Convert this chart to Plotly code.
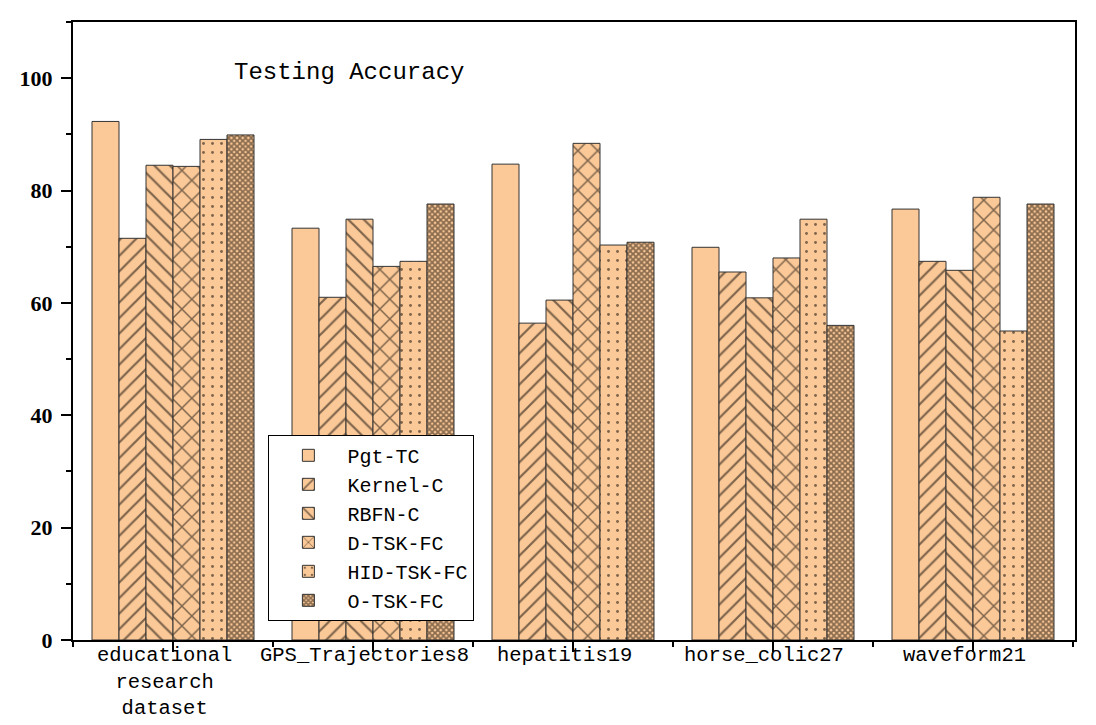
import plotly.graph_objects as go

categories = ["educational<br>research<br>dataset", "GPS_Trajectories8", "hepatitis19",
              "horse_colic27", "waveform21"]
pgt_tc = [92.3, 73.3, 84.7, 69.9, 76.7]
kernel_c = [71.5, 61.0, 56.4, 65.5, 67.4]
rbfn_c = [84.5, 74.9, 60.5, 60.9, 65.8]
d_tsk_fc = [84.3, 66.5, 88.4, 68.0, 78.8]
hid_tsk_fc = [89.1, 67.4, 70.3, 74.9, 55.0]
o_tsk_fc = [89.9, 77.6, 70.8, 56.0, 77.6]

series = [
    ("Pgt-TC", pgt_tc, dict(shape="")),
    ("Kernel-C", kernel_c, dict(shape="/", size=11, solidity=0.2, fgcolor="#000000")),
    ("RBFN-C", rbfn_c, dict(shape="\\", size=11, solidity=0.2, fgcolor="#000000")),
    ("D-TSK-FC", d_tsk_fc, dict(shape="x", size=14, solidity=0.2, fgcolor="#000000")),
    ("HID-TSK-FC", hid_tsk_fc, dict(shape=".", size=9, solidity=0.08, fgcolor="#000000")),
    ("O-TSK-FC", o_tsk_fc, dict(shape="x", size=4, solidity=0.7, fgcolor="#1a0f05")),
]

peach = "#FBC897"
xpos = list(range(len(categories)))

fig = go.Figure()
for name, vals, pat in series:
    fig.add_trace(go.Bar(
        x=xpos, y=vals, name=name,
        marker=dict(color=peach, line=dict(color="#333333", width=1), pattern=pat),
    ))

# category labels sit close under the axis, so draw them as annotations
labels = [dict(
    text=c, x=i, y=0, xref="x", yref="paper", xanchor="center", yanchor="top",
    xshift=-9, yshift=-2, showarrow=False, font=dict(family="Liberation Mono", size=20.5),
) for i, c in zip(xpos, categories)]

fig.update_layout(
    width=1096, height=725,
    margin=dict(l=65, r=29, t=14, b=93, autoexpand=False),
    paper_bgcolor="white", plot_bgcolor="white",
    barmode="group", bargap=0.19, bargroupgap=0,
    font=dict(family="Liberation Mono", color="black"),
    legend=dict(
        x=0.195, y=0.332, xanchor="left", yanchor="top",
        bgcolor="white", bordercolor="black", borderwidth=1,
        font=dict(family="Liberation Mono", size=20),
        tracegroupgap=0, itemwidth=68,
    ),
    annotations=labels + [dict(
        text="Testing Accuracy", x=0.159, y=0.918, xref="paper", yref="paper",
        xanchor="left", yanchor="middle", showarrow=False,
        font=dict(family="Liberation Mono", size=24),
    )],
)

fig.update_xaxes(
    range=[-0.5, 4.51], tickvals=xpos, showticklabels=False, automargin=False,
    showline=True, linecolor="black", linewidth=2, mirror=True,
    ticks="outside", ticklen=10, tickwidth=2, tickcolor="black",
    minor=dict(tickvals=[-0.5, 0.5, 1.5, 2.5, 3.5, 4.5], ticks="outside", ticklen=5, tickwidth=2, tickcolor="black"),
    showgrid=False, zeroline=False,
)
fig.update_yaxes(
    range=[0, 110], tickvals=[0, 20, 40, 60, 80, 100], automargin=False,
    showline=True, linecolor="black", linewidth=2, mirror=True,
    ticks="outside", ticklen=10, tickwidth=2, tickcolor="black", ticklabelstandoff=4,
    minor=dict(dtick=10, ticks="outside", ticklen=5, tickwidth=2, tickcolor="black"),
    tickfont=dict(family="Liberation Serif", size=22, weight="bold"),
    showgrid=False, zeroline=False,
)

fig.write_html("out.html")
